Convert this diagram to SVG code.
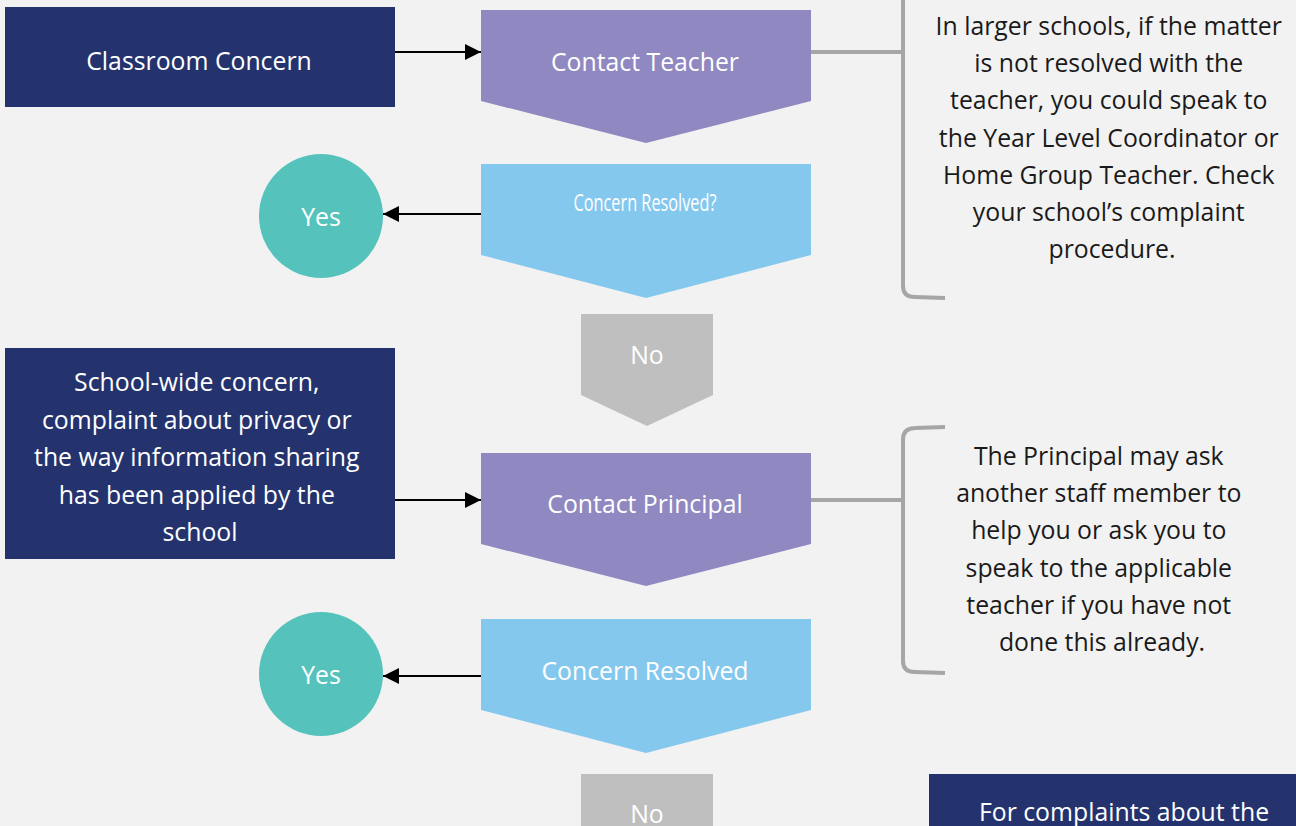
<svg xmlns="http://www.w3.org/2000/svg" width="1296" height="826" viewBox="0 0 1296 826">
<defs>
<style>
.navy{fill:#24336E}
.purple{fill:#9088C0}
.blue{fill:#85C8EE}
.gray{fill:#BFBFBF}
.teal{fill:#55C3BC}
.wt{fill:#FFFFFF;font-family:"Open Sans","Noto Sans",sans-serif;font-size:24.8px;text-anchor:middle}
.bt{fill:#1A1A1A;font-family:"Open Sans","Noto Sans",sans-serif;font-size:24.8px;text-anchor:middle}
.cond{font-size:24px}
.conn{stroke:#000;stroke-width:2;fill:none}
.brk{stroke:#A6A6A6;stroke-width:4;fill:none}
</style>
<marker id="ah" viewBox="0 0 16 16" refX="16" refY="8" markerWidth="16" markerHeight="16" markerUnits="userSpaceOnUse" orient="auto">
<path d="M0,0 L16,8 L0,16 z" fill="#000"/>
</marker>
</defs>
<rect x="0" y="0" width="1296" height="826" fill="#F2F2F2"/>

<g id="classroom-concern">
<rect class="navy" x="5" y="7" width="390" height="100"/>
<text class="wt" x="199" y="70">Classroom Concern</text>
</g>

<g id="contact-teacher">
<path class="purple" d="M481,10 L811,10 L811,101 L646,143 L481,101 Z"/>
<text class="wt" x="645" y="71">Contact Teacher</text>
</g>

<g id="concern-resolved-1">
<path class="blue" d="M481,164 L811,164 L811,255 L646,298 L481,255 Z"/>
<text class="wt cond" x="645" y="211" textLength="143" lengthAdjust="spacingAndGlyphs">Concern Resolved?</text>
</g>

<g id="yes-1">
<circle class="teal" cx="321" cy="216" r="62"/>
<text class="wt" x="321" y="226">Yes</text>
</g>

<g id="no-1">
<path class="gray" d="M581,314 L713,314 L713,395 L647,426 L581,395 Z"/>
<text class="wt" x="647" y="364">No</text>
</g>

<g id="school-wide-concern">
<rect class="navy" x="5" y="348" width="390" height="211"/>
<text class="wt">
<tspan x="200" y="391">School-wide concern,</tspan>
<tspan x="200" y="428.5">complaint about privacy or</tspan>
<tspan x="200" y="466">the way information sharing</tspan>
<tspan x="200" y="503.5">has been applied by the</tspan>
<tspan x="200" y="541">school</tspan>
</text>
</g>

<g id="contact-principal">
<path class="purple" d="M481,453 L811,453 L811,544 L646,586 L481,544 Z"/>
<text class="wt" x="645" y="513">Contact Principal</text>
</g>

<g id="concern-resolved-2">
<path class="blue" d="M481,619 L811,619 L811,710 L646,753 L481,710 Z"/>
<text class="wt" x="645" y="680">Concern Resolved</text>
</g>

<g id="yes-2">
<circle class="teal" cx="321" cy="674" r="62"/>
<text class="wt" x="321" y="684">Yes</text>
</g>

<g id="no-2">
<rect class="gray" x="581" y="774" width="132" height="60"/>
<text class="wt" x="647" y="823">No</text>
</g>

<g id="complaints-box">
<rect class="navy" x="929" y="774" width="380" height="60"/>
<text class="wt" x="1124" y="821">For complaints about the</text>
</g>

<g id="note-1">
<text class="bt">
<tspan x="1112" y="35">In larger schools, if the matter</tspan>
<tspan x="1112" y="72.2">is not resolved with the</tspan>
<tspan x="1112" y="109.4">teacher, you could speak to</tspan>
<tspan x="1112" y="146.6">the Year Level Coordinator or</tspan>
<tspan x="1112" y="183.8">Home Group Teacher. Check</tspan>
<tspan x="1112" y="221">your school’s complaint</tspan>
<tspan x="1112" y="258.2">procedure.</tspan>
</text>
</g>

<g id="note-2">
<text class="bt">
<tspan x="1102" y="465">The Principal may ask</tspan>
<tspan x="1102" y="502.2">another staff member to</tspan>
<tspan x="1102" y="539.4">help you or ask you to</tspan>
<tspan x="1102" y="576.6">speak to the applicable</tspan>
<tspan x="1102" y="613.8">teacher if you have not</tspan>
<tspan x="1102" y="651">done this already.</tspan>
</text>
</g>

<g id="connectors">
<line class="conn" x1="395" y1="52" x2="481" y2="52" marker-end="url(#ah)"/>
<line class="conn" x1="481" y1="214" x2="383" y2="214" marker-end="url(#ah)"/>
<line class="conn" x1="395" y1="500" x2="481" y2="500" marker-end="url(#ah)"/>
<line class="conn" x1="481" y1="676" x2="383" y2="676" marker-end="url(#ah)"/>
<path class="brk" d="M811,52 L903,52"/>
<path class="brk" d="M903,-5 L903,286 Q903,297 915,297 L945,298"/>
<path class="brk" d="M811,500 L903,500"/>
<path class="brk" d="M945,427 L915,428 Q903,428 903,440 L903,661 Q903,672 915,672 L945,673"/>
</g>
</svg>
